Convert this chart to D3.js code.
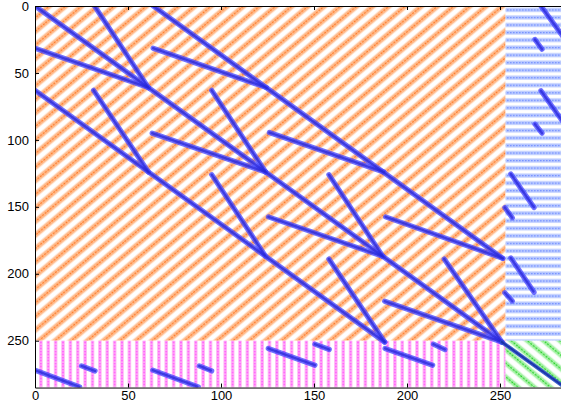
<!DOCTYPE html>
<html>
<head>
<meta charset="utf-8">
<script src="https://cdn.jsdelivr.net/npm/d3@7"></script>
<style>
  html, body { margin: 0; padding: 0; background: #fff; }
  svg { display: block; }
  .axis text { font-family: "Liberation Sans", Arial, Helvetica, sans-serif; font-size: 13px; fill: #000; }
  .axis path, .axis line { stroke: #000; }
</style>
</head>
<body>
<svg id="chart" width="561" height="405"></svg>
<script>
// ---------------- data (matrix coordinates: [col1, row1, col2, row2]) ----------------
const matrixSize = 285;
const blockEdgeX = 253;
const blockEdgeY = 250;
const xTicks = [0, 50, 100, 150, 200, 250];
const yTicks = [0, 50, 100, 150, 200, 250];

const mainDiagonal = [[0, 0, 251, 251]];
const cornerDiagonal = [[251, 251, 285, 285]];
const steepSegments = [[32, 0, 61, 61], [95, 63, 124, 124], [158, 126, 187, 187], [220, 189, 251, 251]];
const shallowSegments = [[0, 31.5, 61, 61], [63, 95, 124, 124], [125.5, 157.5, 187, 187], [188, 220.5, 251, 251]];
const superSegments = [[63.5, 0, 251.5, 188.5], [63.5, 31.5, 124.5, 61], [126, 94.5, 187.5, 124], [188.5, 157.5, 251.5, 188.5]];
const subSegments = [[0, 63, 188, 251], [31.5, 63, 61, 124], [95, 126, 124, 187], [158, 189, 188, 251]];
const bottomSegments = [
  [0, 272, 24, 284.5], [25, 268.8, 32.3, 272.6],
  [63.3, 272, 87.8, 284.5], [88.3, 268.8, 95, 272.6],
  [125.4, 255.8, 150.5, 268.3], [150.5, 252.6, 158.2, 256.6],
  [188.2, 255.8, 213.8, 268.3], [214.2, 252.6, 220.4, 256.6]
];
const rightSegments = [
  [272, 0, 284.5, 24], [268.8, 25, 272.6, 32.3],
  [272, 63.3, 284.5, 87.8], [268.8, 88.3, 272.6, 95],
  [255.8, 125.4, 268.3, 150.5], [252.6, 150.5, 256.6, 158.2],
  [255.8, 188.2, 268.3, 213.8], [252.6, 214.2, 256.6, 220.4]
];

// ---------------- drawing ----------------
const svg = d3.select("#chart");
const x = d3.scaleLinear().domain([0, matrixSize]).range([35, 35 + matrixSize * 1.86]);
const y = d3.scaleLinear().domain([0, matrixSize]).range([6, 6 + matrixSize * 1.3388]);

const defs = svg.append("defs");
defs.append("clipPath").attr("id", "plotclip")
  .append("rect").attr("x", x(0)).attr("y", y(0))
  .attr("width", x(matrixSize) - x(0)).attr("height", y(matrixSize) - y(0));

function stripePattern(id, angle, period, bandW, bandCol, coreCol) {
  const p = defs.append("pattern").attr("id", id)
    .attr("patternUnits", "userSpaceOnUse")
    .attr("width", 20).attr("height", period)
    .attr("patternTransform", `rotate(${angle})`);
  p.append("rect").attr("width", 20).attr("height", period).attr("fill", "#fff");
  p.append("rect").attr("y", (period - bandW) / 2).attr("width", 20).attr("height", bandW).attr("fill", bandCol);
  p.append("line").attr("x1", 0).attr("x2", 20).attr("y1", period / 2).attr("y2", period / 2)
    .attr("stroke", coreCol).attr("stroke-width", 1.5).attr("stroke-dasharray", "2.2 1.2");
}
stripePattern("orangeHatch", -40, 10.4, 5.4, "#ffbf93", "#ff7f2e");
stripePattern("greenHatch", 40, 10.4, 5.2, "#b0f3b0", "#2fd42f");

// blue horizontal
const pb = defs.append("pattern").attr("id", "blueHatch")
  .attr("patternUnits", "userSpaceOnUse").attr("width", 6).attr("height", 7.53).attr("y", 0);
pb.append("rect").attr("width", 6).attr("height", 7.53).attr("fill", "#fff");
pb.append("rect").attr("y", 0.4).attr("width", 6).attr("height", 4).attr("fill", "#b6c7ff");
pb.append("line").attr("x1", 0).attr("x2", 6).attr("y1", 2.4).attr("y2", 2.4)
  .attr("stroke", "#7893ff").attr("stroke-width", 1.1).attr("stroke-dasharray", "1.6 1.4");

// magenta vertical
const pm = defs.append("pattern").attr("id", "magentaHatch")
  .attr("patternUnits", "userSpaceOnUse").attr("width", 7.375).attr("height", 6).attr("x", 0.3);
pm.append("rect").attr("width", 7.375).attr("height", 6).attr("fill", "#fff");
pm.append("rect").attr("x", 1.9).attr("width", 3.6).attr("height", 6).attr("fill", "#ffb8f6");
pm.append("line").attr("x1", 3.7).attr("x2", 3.7).attr("y1", 0).attr("y2", 6)
  .attr("stroke", "#ff48fc").attr("stroke-width", 1.3).attr("stroke-dasharray", "1.6 1.2");

const regions = svg.append("g").attr("clip-path", "url(#plotclip)");
function region(x0, y0, x1, y1, fill) {
  regions.append("rect")
    .attr("x", x(x0)).attr("y", y(y0))
    .attr("width", x(x1) - x(x0)).attr("height", y(y1) - y(y0))
    .attr("fill", fill);
}
region(0, 0, blockEdgeX, blockEdgeY, "url(#orangeHatch)");
region(blockEdgeX, 0, matrixSize, blockEdgeY, "url(#blueHatch)");
region(0, blockEdgeY, blockEdgeX, matrixSize, "url(#magentaHatch)");
region(blockEdgeX, blockEdgeY, matrixSize, matrixSize, "url(#greenHatch)");

const marks = svg.append("g").attr("clip-path", "url(#plotclip)");
const blueSegs = [].concat(mainDiagonal, steepSegments, shallowSegments, superSegments, subSegments, bottomSegments, rightSegments);

function drawSegs(segs, outer, outerW, inner, innerW, op) {
  marks.append("g").selectAll("line").data(segs).join("line")
    .attr("x1", d => x(d[0])).attr("y1", d => y(d[1]))
    .attr("x2", d => x(d[2])).attr("y2", d => y(d[3]))
    .attr("stroke", outer).attr("stroke-width", outerW)
    .attr("stroke-linecap", "round").attr("stroke-opacity", op);
  marks.append("g").selectAll("line").data(segs).join("line")
    .attr("x1", d => x(d[0])).attr("y1", d => y(d[1]))
    .attr("x2", d => x(d[2])).attr("y2", d => y(d[3]))
    .attr("stroke", inner).attr("stroke-width", innerW)
    .attr("stroke-linecap", "round").attr("stroke-opacity", 0.7)
    .attr("stroke-dasharray", "2 1.5");
}
drawSegs(blueSegs, "#4848ff", 5.2, "#2626d6", 2.4, 0.78);
drawSegs(cornerDiagonal, "#2a52c8", 4, "#10209a", 1.8, 0.9);

// ---------------- axes ----------------
svg.append("g").attr("class", "axis")
  .attr("transform", `translate(0,${y(matrixSize)})`)
  .call(d3.axisBottom(x).tickValues(xTicks).tickSize(-4).tickSizeOuter(0).tickPadding(3));
svg.append("g").attr("class", "axis")
  .attr("transform", `translate(0,${y(0)})`)
  .call(d3.axisTop(x).tickValues(xTicks).tickSize(-4).tickSizeOuter(0).tickFormat(""));
svg.append("g").attr("class", "axis")
  .attr("transform", `translate(${x(0)},0)`)
  .call(d3.axisLeft(y).tickValues(yTicks).tickSize(-4).tickSizeOuter(0).tickPadding(6));
</script>
</body>
</html>
